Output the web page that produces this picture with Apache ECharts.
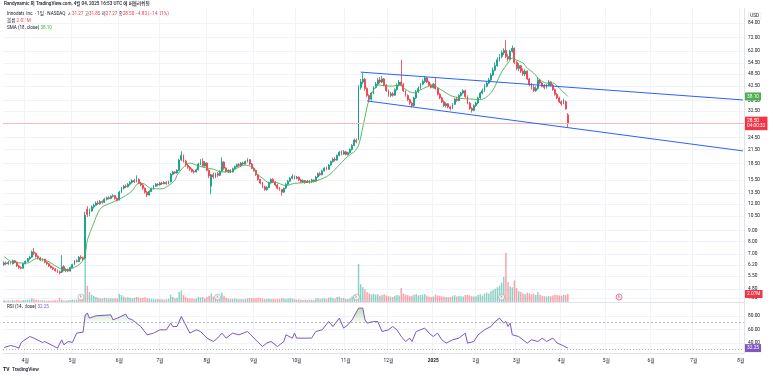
<!DOCTYPE html>
<html>
<head>
<meta charset="utf-8">
<title>INOD 1D</title>
<script src="https://cdn.jsdelivr.net/npm/echarts@6/dist/echarts.min.js"></script>
<style>
  html, body { margin: 0; padding: 0; background: #fff; }
  #chart { width: 773px; height: 377px; }
</style>
</head>
<body>
<div id="chart"></div>
<script>
// 거래일 달력 (주말, 휴장일 제외)
var firstDay = '2024-03-15';
var lastDay = '2025-08-04';
var holidays = ['2024-03-29', '2024-05-27', '2024-06-19', '2024-07-04', '2024-09-02', '2024-11-28',
  '2024-12-25', '2025-01-01', '2025-01-09', '2025-01-20', '2025-02-17', '2025-04-18', '2025-05-26',
  '2025-06-19', '2025-07-04'];

// [시가, 종가, 저가, 고가] - 2024-03-15 부터
var ohlc = [
  [6.25, 6.35, 6.15, 6.45], [6.35, 6.30, 6.20, 6.45], [6.30, 6.38, 6.22, 6.48], [6.38, 6.32, 6.25, 6.45], [6.30, 6.50, 6.25, 6.58],
  [6.50, 6.40, 6.32, 6.55], [6.40, 6.15, 6.08, 6.45], [6.15, 6.05, 5.95, 6.22], [6.05, 6.00, 5.92, 6.12], [6.00, 6.30, 5.98, 6.35],
  [6.30, 6.45, 6.25, 6.52], [6.45, 6.65, 6.40, 6.70], [6.65, 6.75, 6.55, 6.85], [6.75, 7.15, 6.70, 7.25], [7.15, 7.05, 6.90, 7.45],
  [7.05, 6.80, 6.72, 7.10], [6.80, 6.70, 6.60, 6.90], [6.70, 6.55, 6.48, 6.78], [6.55, 6.60, 6.45, 6.68], [6.60, 6.40, 6.32, 6.65],
  [6.40, 6.30, 6.22, 6.45], [6.30, 6.15, 6.08, 6.35], [6.15, 6.05, 5.98, 6.20], [6.05, 5.95, 5.88, 6.10], [5.95, 5.85, 5.78, 6.00],
  [5.85, 5.78, 5.70, 5.92], [5.78, 5.70, 5.62, 5.85], [5.75, 6.10, 5.70, 6.90], [6.10, 5.85, 5.80, 6.20], [5.85, 5.90, 5.75, 6.00],
  [5.90, 5.82, 5.75, 5.98], [5.82, 6.05, 5.78, 6.10], [6.05, 6.25, 6.00, 6.30], [6.25, 6.50, 6.20, 6.55], [6.50, 6.45, 6.38, 6.60],
  [6.45, 6.75, 6.42, 6.85], [6.75, 6.70, 6.60, 6.90], [6.70, 6.60, 6.52, 6.80], [6.70, 10.60, 6.60, 11.00], [11.30, 10.70, 10.40, 11.70],
  [10.70, 11.10, 10.50, 11.40], [11.10, 11.60, 11.00, 11.80], [11.60, 11.80, 11.40, 12.00], [11.80, 12.10, 11.70, 12.30], [12.10, 12.00, 11.85, 12.40],
  [12.00, 12.30, 11.90, 12.50], [12.30, 12.20, 12.00, 12.45], [12.20, 12.60, 12.10, 12.80], [12.60, 12.80, 12.45, 12.95], [12.80, 12.70, 12.55, 13.00],
  [12.70, 13.00, 12.60, 13.15], [13.00, 13.10, 12.85, 13.30], [13.10, 12.70, 12.55, 13.20], [12.70, 12.40, 12.30, 12.85], [12.50, 13.60, 12.45, 13.80],
  [13.60, 14.20, 13.50, 14.40], [14.20, 14.50, 14.00, 14.70], [14.50, 14.40, 14.20, 14.80], [14.40, 14.80, 14.30, 15.00], [14.80, 15.10, 14.60, 15.30],
  [15.10, 15.40, 14.90, 15.60], [15.40, 15.20, 15.00, 15.70], [15.20, 15.60, 15.10, 16.30], [15.60, 15.00, 14.80, 15.80], [15.00, 14.70, 14.50, 15.20],
  [14.70, 14.20, 13.90, 14.90], [14.20, 13.60, 13.40, 14.30], [13.60, 13.20, 12.90, 13.80], [13.20, 13.70, 13.10, 13.90], [13.70, 14.10, 13.60, 14.30],
  [14.10, 14.50, 14.00, 14.70], [14.50, 14.80, 14.40, 15.00], [14.80, 14.70, 14.50, 15.00], [14.70, 15.00, 14.60, 15.20], [15.00, 14.90, 14.70, 15.20],
  [14.90, 15.10, 14.80, 15.30], [15.10, 14.90, 14.70, 15.30], [14.90, 15.20, 14.80, 15.40], [15.20, 16.50, 15.10, 16.70], [16.50, 16.90, 16.30, 17.10],
  [16.90, 16.70, 16.50, 17.10], [16.70, 17.20, 16.60, 17.40], [17.20, 19.20, 17.10, 19.50], [19.20, 20.20, 19.00, 21.10], [20.20, 19.00, 18.70, 20.40],
  [19.00, 18.20, 17.90, 19.30], [18.20, 17.80, 17.50, 18.50], [17.80, 17.40, 17.10, 18.00], [17.40, 17.00, 16.80, 17.60], [17.00, 16.90, 16.60, 17.30],
  [16.90, 17.30, 16.80, 17.50], [17.30, 18.40, 17.20, 18.70], [18.40, 18.90, 18.20, 19.40], [18.90, 18.00, 17.80, 19.60], [18.00, 18.60, 17.90, 19.00],
  [18.60, 17.20, 17.00, 18.80], [17.20, 16.20, 15.80, 17.40], [14.50, 16.40, 13.30, 16.60], [16.40, 16.00, 15.70, 16.80], [16.00, 16.60, 15.80, 16.80],
  [16.60, 16.30, 16.00, 16.90], [16.30, 17.00, 16.20, 17.20], [17.00, 18.80, 16.90, 19.80], [18.80, 17.60, 17.30, 19.00], [17.60, 17.00, 16.80, 17.80],
  [17.00, 17.20, 16.70, 17.40], [17.20, 16.90, 16.70, 17.40], [16.90, 17.50, 16.80, 17.70], [17.50, 17.90, 17.40, 18.10], [17.90, 18.30, 17.70, 18.50],
  [18.30, 18.10, 17.90, 18.60], [18.10, 18.60, 18.00, 18.80], [18.60, 18.40, 18.20, 18.90], [18.40, 18.90, 18.30, 19.10], [18.90, 19.30, 18.70, 19.60],
  [19.30, 18.40, 18.20, 19.40], [18.40, 17.60, 17.40, 18.60], [17.60, 17.20, 17.00, 17.80], [17.20, 16.40, 16.20, 17.30], [16.40, 15.60, 15.40, 16.50],
  [15.60, 15.00, 14.80, 15.70], [15.00, 14.40, 14.20, 15.20], [14.40, 14.00, 13.80, 14.60], [14.00, 14.30, 13.80, 14.50], [14.30, 15.00, 14.20, 15.20],
  [15.00, 15.60, 14.90, 15.80], [15.60, 15.20, 15.00, 15.80], [15.20, 14.70, 14.50, 15.30], [14.70, 14.20, 14.00, 14.90], [14.20, 14.00, 13.80, 14.40],
  [14.00, 13.60, 13.10, 14.10], [13.60, 14.20, 13.50, 14.30], [14.20, 14.80, 14.10, 15.00], [14.80, 15.30, 14.70, 15.50], [15.30, 15.80, 15.20, 16.00],
  [15.80, 16.10, 15.60, 16.50], [16.10, 15.80, 15.60, 16.30], [15.80, 16.00, 15.60, 16.20], [16.00, 15.50, 15.30, 16.10], [15.50, 15.20, 15.00, 15.70],
  [15.20, 15.40, 15.00, 15.60], [15.40, 15.10, 14.90, 15.50], [15.10, 15.30, 15.00, 15.50], [15.30, 15.20, 14.90, 15.50], [15.20, 15.50, 15.00, 15.70],
  [15.50, 15.30, 15.10, 15.60], [15.30, 16.00, 15.20, 16.20], [16.00, 16.60, 15.90, 16.80], [16.60, 16.40, 16.20, 16.90], [16.40, 17.10, 16.30, 17.30],
  [17.10, 17.60, 17.00, 17.80], [17.60, 17.40, 17.20, 17.90], [17.40, 18.20, 17.30, 18.40], [18.20, 18.90, 18.10, 19.10], [18.90, 19.40, 18.70, 19.70],
  [19.40, 19.20, 18.90, 19.80], [19.20, 20.20, 19.10, 20.40], [20.20, 20.90, 20.00, 21.20], [20.90, 20.50, 20.20, 21.30], [20.50, 21.00, 20.30, 21.40],
  [21.00, 20.40, 20.20, 21.20], [20.40, 20.80, 20.20, 21.00], [20.80, 21.50, 20.60, 21.80], [21.50, 22.50, 21.30, 22.80], [22.50, 23.80, 22.30, 24.20],
  [23.80, 23.40, 23.00, 24.20], [24.00, 42.00, 23.80, 43.00], [42.00, 44.50, 41.00, 46.00], [44.50, 45.80, 43.50, 49.00], [45.80, 41.50, 40.50, 46.50],
  [41.50, 38.50, 37.80, 42.00], [38.50, 37.00, 36.20, 39.00], [37.00, 39.50, 36.50, 40.00], [39.50, 42.00, 39.00, 42.50], [42.00, 43.50, 41.50, 44.50],
  [43.50, 45.50, 43.00, 46.50], [45.50, 44.50, 43.80, 47.00], [44.50, 46.00, 44.00, 47.50], [46.00, 43.00, 42.50, 46.50], [43.00, 40.50, 40.00, 43.50],
  [40.50, 38.50, 38.00, 41.00], [38.50, 39.20, 37.80, 40.00], [39.20, 38.60, 38.00, 40.00], [38.60, 41.00, 38.40, 41.50], [41.00, 43.00, 40.50, 43.80],
  [43.00, 44.50, 42.50, 45.50], [44.50, 43.20, 42.50, 56.50], [43.20, 40.50, 40.00, 44.00], [40.50, 38.50, 38.00, 41.00], [38.50, 36.80, 36.20, 39.00],
  [36.80, 35.50, 34.80, 37.20], [35.50, 34.50, 33.80, 36.00], [34.50, 37.50, 34.20, 38.00], [37.50, 40.00, 37.00, 40.80], [40.00, 41.50, 39.50, 42.50],
  [41.50, 43.50, 41.00, 44.00], [43.50, 44.80, 43.00, 45.80], [44.80, 46.50, 44.00, 47.50], [46.50, 44.50, 44.00, 47.00], [44.50, 43.00, 42.50, 45.00],
  [43.00, 42.00, 41.50, 43.80], [42.00, 43.50, 41.50, 44.00], [43.50, 41.50, 41.00, 46.50], [41.50, 39.00, 38.50, 42.00], [39.00, 37.50, 37.00, 39.50],
  [37.50, 36.00, 35.50, 38.00], [36.00, 34.50, 34.00, 36.50], [34.50, 35.20, 33.80, 35.80], [35.20, 34.00, 33.50, 35.50], [34.00, 33.50, 32.80, 34.50],
  [33.50, 35.00, 33.20, 35.50], [35.00, 37.00, 34.80, 37.50], [37.00, 36.50, 36.00, 38.00], [36.50, 38.50, 36.20, 39.00], [38.50, 39.50, 38.00, 40.00],
  [39.50, 40.50, 39.00, 41.20], [40.50, 38.00, 37.50, 41.00], [38.00, 35.50, 35.00, 38.50], [35.50, 33.50, 33.00, 36.00], [33.50, 32.80, 32.00, 34.00],
  [32.80, 34.50, 32.50, 35.00], [34.50, 35.50, 34.00, 36.00], [35.50, 37.50, 35.00, 38.00], [37.50, 39.50, 37.00, 40.00], [39.50, 40.50, 39.00, 41.50],
  [40.50, 42.50, 40.00, 43.50], [42.50, 44.00, 42.00, 45.00], [44.00, 45.50, 43.50, 46.50], [45.50, 48.00, 45.00, 49.00], [48.00, 50.50, 47.50, 52.00],
  [50.50, 53.00, 50.00, 55.00], [53.00, 56.50, 52.50, 58.00], [56.50, 58.50, 55.50, 60.00], [58.50, 61.00, 57.50, 62.50], [61.00, 62.50, 59.50, 64.00],
  [62.50, 58.50, 57.50, 70.00], [58.50, 57.00, 55.50, 60.00], [57.00, 62.00, 56.50, 63.00], [62.00, 64.00, 61.00, 66.00], [64.00, 55.00, 54.00, 64.50],
  [55.00, 51.50, 50.50, 56.00], [51.50, 53.00, 50.00, 54.50], [53.00, 50.00, 49.00, 53.50], [50.00, 48.50, 47.50, 51.50], [48.50, 50.00, 47.50, 51.00],
  [50.00, 46.00, 45.50, 50.50], [46.00, 43.50, 42.50, 46.50], [43.50, 42.00, 41.00, 44.00], [42.00, 40.50, 40.00, 43.00], [40.50, 41.50, 40.00, 42.50],
  [41.50, 45.50, 41.00, 47.00], [45.50, 44.00, 43.50, 46.00], [44.00, 42.50, 42.00, 44.50], [42.50, 42.00, 41.20, 43.50], [42.00, 43.00, 41.50, 43.50],
  [43.00, 44.50, 42.50, 45.50], [44.50, 43.00, 42.50, 45.00], [43.00, 41.00, 40.50, 43.50], [41.00, 39.00, 38.50, 41.50], [39.00, 37.50, 37.00, 39.50],
  [37.50, 36.00, 35.50, 38.00], [36.00, 35.20, 34.50, 36.50], [35.20, 36.80, 35.00, 37.20], [36.00, 33.33, 33.00, 36.50], [31.27, 28.50, 27.27, 31.85]
];

// 거래량 (백만 주)
var volumes = [
  0.45, 0.35, 0.40, 0.30, 0.55, 0.40, 0.50, 0.45, 0.35, 0.50,
  0.45, 0.55, 0.60, 0.90, 0.70, 0.55, 0.45, 0.40, 0.45, 0.40,
  0.35, 0.40, 0.35, 0.40, 0.45, 0.40, 1.10, 0.60, 0.40, 0.35,
  0.45, 0.50, 0.60, 0.50, 0.65, 0.55, 0.60, 0.70, 11.8, 4.2,
  2.6, 1.9, 1.6, 1.3, 1.1, 1.0, 0.9, 1.1, 1.0, 0.9,
  1.0, 0.9, 1.0, 0.9, 2.1, 1.8, 1.4, 1.1, 1.2, 1.1,
  1.0, 1.1, 1.3, 1.2, 1.0, 1.1, 1.2, 1.0, 0.9, 0.8,
  0.8, 0.7, 0.8, 0.7, 0.7, 0.6, 0.7, 0.8, 1.9, 1.3,
  1.0, 1.1, 2.6, 3.0, 1.8, 1.3, 1.0, 0.9, 0.9, 0.8,
  0.9, 1.3, 1.2, 1.3, 1.0, 1.2, 1.6, 2.2, 1.4, 1.1,
  1.3, 1.2, 2.4, 1.6, 1.1, 0.9, 0.8, 0.8, 0.9, 0.8,
  0.7, 0.8, 0.7, 0.8, 0.9, 1.0, 1.0, 0.9, 1.0, 1.1,
  1.0, 0.9, 0.8, 0.8, 0.9, 0.8, 0.8, 0.7, 0.8, 0.8,
  1.0, 0.9, 0.8, 0.9, 1.0, 0.9, 0.7, 0.6, 0.7, 0.6,
  0.5, 0.6, 0.5, 0.6, 0.6, 0.5, 0.9, 1.0, 0.8, 0.9,
  1.0, 0.8, 1.1, 1.2, 1.0, 0.9, 1.3, 1.4, 1.0, 1.0,
  0.8, 0.8, 1.0, 1.4, 1.8, 1.3, 9.8, 4.6, 3.8, 3.2,
  2.6, 2.2, 2.0, 2.1, 1.9, 2.0, 1.6, 1.8, 2.0, 1.7,
  1.5, 1.4, 1.3, 1.6, 1.8, 1.7, 3.6, 2.2, 1.9, 1.8,
  1.5, 1.6, 1.9, 2.0, 1.7, 1.8, 1.9, 2.1, 1.7, 1.4,
  1.3, 1.4, 1.9, 1.7, 1.6, 1.5, 1.4, 1.3, 1.2, 1.3,
  1.5, 1.8, 1.4, 1.6, 1.5, 1.4, 1.8, 1.9, 1.7, 1.5,
  1.4, 1.5, 1.8, 2.0, 1.7, 2.2, 2.4, 2.2, 2.8, 3.1,
  3.4, 3.8, 4.2, 5.0, 6.5, 12.7, 5.2, 4.0, 3.8, 5.6,
  3.6, 2.8, 2.6, 2.2, 2.0, 2.4, 2.3, 2.0, 2.1, 1.8,
  2.6, 1.9, 1.6, 1.5, 1.4, 1.6, 1.5, 1.7, 1.9, 1.8,
  1.7, 1.6, 1.9, 1.8, 2.07
];

// SMA 선 [봉 번호, 값]
var smaPoints = [
  [0, 6.8], [4, 6.4], [11, 6.34], [15, 6.65], [20, 6.5], [25, 6.07], [28, 5.9], [32, 6.0], [36, 6.34], [38, 7.0],
  [39, 8.1], [42, 9.75], [44, 10.9], [46, 11.6], [50, 12.1], [53, 12.5], [57, 13.1], [60, 13.8], [63, 14.95], [65, 14.95],
  [69, 14.1], [74, 14.1], [77, 14.6], [80, 15.45], [81, 16.3], [84, 17.8], [87, 18.6], [90, 18.2], [93, 17.8], [98, 17.4],
  [102, 16.9], [106, 16.9], [109, 17.6], [113, 18.2], [116, 17.8], [118, 16.7], [121, 15.8], [124, 15.1], [127, 15.1], [132, 14.6],
  [136, 14.95], [142, 15.1], [147, 15.45], [152, 16.3], [156, 17.8], [160, 19.6], [163, 20.7], [164, 21.0], [166, 22.5], [168, 27.4],
  [169, 30.5], [171, 37.0], [174, 42.2], [176, 43.1], [179, 42.6], [182, 42.6], [185, 43.1], [189, 40.5], [192, 39.6], [195, 40.9],
  [198, 42.2], [201, 43.1], [203, 41.9], [206, 40.2], [209, 38.5], [214, 37.3], [218, 37.1], [223, 36.8], [226, 37.9], [229, 40.9],
  [231, 45.0], [233, 49.6], [236, 54.6], [238, 57.6], [240, 56.4], [243, 54.6], [245, 51.7], [248, 49.0], [251, 45.5], [254, 44.0],
  [257, 44.0], [260, 41.7], [264, 38.1]
];

// RSI(14) [봉 번호, 값]
var rsiPoints = [
  [0, 33.1], [3, 36.1], [5, 34.6], [7, 32.2], [8, 40.5], [12, 49.4], [14, 47.0], [18, 40.5], [19, 42.0], [22, 37.1],
  [25, 32.2], [27, 44.5], [28, 37.1], [30, 42.0], [32, 40.5], [34, 54.4], [37, 55.9], [38, 81.5], [39, 84.0], [40, 76.6],
  [43, 80.0], [50, 81.5], [51, 74.1], [53, 76.6], [57, 82.5], [58, 76.6], [60, 74.1], [64, 64.2], [67, 51.9], [70, 54.4],
  [73, 59.3], [76, 59.3], [78, 69.2], [79, 64.2], [81, 64.2], [83, 79.0], [85, 66.7], [87, 54.4], [90, 59.3], [92, 56.8],
  [95, 47.0], [98, 42.0], [100, 47.0], [102, 54.4], [104, 47.0], [107, 54.4], [110, 51.9], [114, 56.8], [117, 47.0], [121, 34.6],
  [123, 39.6], [125, 42.0], [128, 34.6], [131, 42.0], [132, 51.9], [135, 47.0], [136, 54.4], [137, 47.0], [144, 47.0], [146, 56.8],
  [149, 59.3], [152, 71.6], [154, 64.2], [157, 76.6], [159, 61.8], [161, 66.7], [163, 74.1], [166, 91.4], [168, 91.4], [169, 74.1],
  [170, 69.2], [173, 71.6], [175, 71.6], [177, 56.8], [180, 59.3], [182, 64.2], [184, 59.3], [186, 49.4], [188, 42.0], [190, 47.0],
  [191, 42.0], [193, 56.8], [197, 61.8], [199, 54.4], [201, 49.4], [203, 54.4], [205, 44.5], [207, 39.6], [210, 44.5], [213, 47.0],
  [216, 54.4], [217, 39.6], [220, 42.0], [222, 51.9], [225, 59.3], [228, 64.2], [230, 71.6], [232, 76.6], [234, 69.2], [235, 71.6],
  [236, 64.2], [237, 69.2], [238, 51.9], [241, 49.4], [243, 44.5], [245, 39.6], [247, 44.5], [250, 42.0], [252, 47.0], [254, 42.0],
  [257, 47.0], [259, 39.6], [261, 37.1], [264, 32.25]
];

// 평행 채널 (추세선)
var channelUpper = [[167, 49.5], [346, 36.7]];
var channelLower = [[170, 36.3], [346, 21.2]];

// 실적 발표 (E)
var earningsIdx = [36, 100, 165, 233, 288];

// 축 눈금
var priceTicks = [84, 72, 62, 54.5, 48.5, 42.5, 36.5, 32.5, 24.5, 21.5, 18.5, 15.5, 13.5, 12, 10.5, 9, 8, 7, 6.2, 5.5, 4.8, 4.35];
var rsiTicks = [40, 60, 80];

var lastClose = 28.50, lastSma = 38.10, lastVol = 2.07, lastRsi = 32.25;

// ---------------------------------------------------------------
var dates = [];
(function () {
  var d = new Date(firstDay + 'T00:00:00Z');
  var end = new Date(lastDay + 'T00:00:00Z');
  while (d <= end) {
    var s = d.toISOString().slice(0, 10);
    var w = d.getUTCDay();
    if (w !== 0 && w !== 6 && holidays.indexOf(s) < 0) dates.push(s);
    d.setUTCDate(d.getUTCDate() + 1);
  }
})();

function isMonthStart(i) {
  return i > 0 && dates[i].slice(5, 7) !== dates[i - 1].slice(5, 7);
}

var FONT = 'Roboto, "Noto Sans CJK KR", sans-serif';
var UP = '#089981', DOWN = '#f23645';
var GRIDC = '#f0f3fa', LINEC = '#e0e3eb', TEXTC = '#131722';
var NOLINE = { color: 'rgba(0,0,0,0)', width: 1 };

var volData = volumes.map(function (v, i) {
  var up = ohlc[i][1] >= ohlc[i][0];
  return { value: v, itemStyle: { color: up ? 'rgba(8,153,129,0.45)' : 'rgba(242,54,69,0.45)' } };
});

var rsiOver = rsiPoints.map(function (p) { return [p[0], Math.max(p[1], 70)]; });

var earnData = earningsIdx.map(function (i) {
  var future = i >= ohlc.length;
  return {
    value: [i, 4.4],
    itemStyle: { color: future ? '#fce4ec' : '#fff', borderColor: future ? '#e91e63' : '#9598a1', borderWidth: 0.7 }
  };
});

function tagLabel(text, bg) {
  return {
    show: true, position: 'end', distance: 1, formatter: text,
    backgroundColor: bg, color: '#fff', fontFamily: FONT, fontSize: 4.8,
    padding: [1.5, 2, 1, 2], lineHeight: 5.5
  };
}

var chart = echarts.init(document.getElementById('chart'), null, { renderer: 'canvas' });

var xCommon = {
  type: 'category',
  data: dates,
  boundaryGap: true,
  axisTick: { show: false },
  axisLine: { show: true, lineStyle: { color: LINEC, width: 1 } },
  splitLine: { show: true, interval: function (i) { return isMonthStart(i); }, lineStyle: { color: GRIDC, width: 1 } }
};

var option = {
  animation: false,
  backgroundColor: '#ffffff',
  textStyle: { fontFamily: FONT },
  grid: [
    { left: 3, right: 29, top: 8, height: 294 },
    { left: 3, right: 29, top: 303, height: 50 }
  ],
  xAxis: [
    Object.assign({}, xCommon, { gridIndex: 0, axisLabel: { show: false } }),
    Object.assign({}, xCommon, {
      gridIndex: 1,
      axisLabel: {
        show: true, interval: function (i) { return isMonthStart(i); },
        color: TEXTC, fontSize: 4.8, fontFamily: FONT, margin: 5,
        formatter: function (v) {
          var m = +v.slice(5, 7);
          return m === 1 ? '{y|' + v.slice(0, 4) + '}' : m + '월';
        },
        rich: { y: { fontWeight: 'bold', fontSize: 4.8, color: TEXTC, fontFamily: FONT } }
      }
    })
  ],
  yAxis: [
    {
      type: 'log', gridIndex: 0, position: 'right', min: 4.17, max: 98.7, logBase: 10,
      axisLine: { show: true, lineStyle: { color: LINEC } },
      axisTick: { show: false, customValues: priceTicks },
      axisLabel: {
        customValues: priceTicks, color: TEXTC, fontSize: 4.8, fontFamily: FONT, margin: 4,
        formatter: function (v) { return Number(v).toFixed(2); }
      },
      splitLine: { show: true, lineStyle: { color: GRIDC, width: 1 } }
    },
    { type: 'value', gridIndex: 0, min: 0, max: 76, show: false, splitLine: { show: false } },
    {
      type: 'value', gridIndex: 1, position: 'right', min: 25, max: 99,
      axisLine: { show: true, lineStyle: { color: LINEC } },
      axisTick: { show: false, customValues: rsiTicks },
      axisLabel: {
        customValues: rsiTicks, color: TEXTC, fontSize: 4.8, fontFamily: FONT, margin: 4,
        formatter: function (v) { return Number(v).toFixed(2); }
      },
      splitLine: { show: true, lineStyle: { color: GRIDC, width: 1 } }
    }
  ],
  series: [
    {
      name: '볼륨', type: 'bar', xAxisIndex: 0, yAxisIndex: 1, data: volData,
      barWidth: '70%', z: 1, silent: true,
      markLine: {
        symbol: 'none', silent: true,
        lineStyle: NOLINE,
        data: [{ yAxis: lastVol, lineStyle: NOLINE, label: tagLabel(lastVol.toFixed(2) + 'M', DOWN) }]
      }
    },
    {
      name: 'Innodata', type: 'candlestick', xAxisIndex: 0, yAxisIndex: 0, data: ohlc,
      barWidth: '65%', z: 3,
      itemStyle: { color: UP, color0: DOWN, borderColor: UP, borderColor0: DOWN, borderWidth: 0.8 },
      markLine: {
        symbol: 'none', silent: true,
        data: [{
          yAxis: lastClose,
          lineStyle: { color: '#f9b7bd', type: 'solid', width: 1 },
          label: tagLabel(lastClose.toFixed(2) + '\n04:00:32', DOWN)
        }]
      }
    },
    {
      name: 'SMA', type: 'line', xAxisIndex: 0, yAxisIndex: 0, data: smaPoints,
      showSymbol: false, smooth: 0.3, z: 4,
      lineStyle: { color: '#4caf50', width: 0.9 },
      markLine: {
        symbol: 'none', silent: true, lineStyle: NOLINE,
        data: [{ yAxis: lastSma, lineStyle: NOLINE, label: tagLabel(lastSma.toFixed(2), '#4caf50') }]
      }
    },
    {
      name: 'channelUpper', type: 'line', xAxisIndex: 0, yAxisIndex: 0, data: channelUpper,
      showSymbol: false, z: 5, lineStyle: { color: '#2962ff', width: 1 }
    },
    {
      name: 'channelLower', type: 'line', xAxisIndex: 0, yAxisIndex: 0, data: channelLower,
      showSymbol: false, z: 5, lineStyle: { color: '#2962ff', width: 1 }
    },
    {
      name: 'E', type: 'scatter', xAxisIndex: 0, yAxisIndex: 0, data: earnData,
      symbol: 'circle', symbolSize: 6, z: 6,
      label: { show: true, position: 'inside', formatter: 'E', fontSize: 3.8, color: '#787b86', fontFamily: FONT }
    },
    {
      name: 'rsiFill', type: 'line', xAxisIndex: 1, yAxisIndex: 2, data: rsiOver,
      showSymbol: false, silent: true, z: 2,
      lineStyle: { width: 0 },
      areaStyle: {
        origin: 70,
        color: new echarts.graphic.LinearGradient(0, 0, 0, 1, [
          { offset: 0, color: 'rgba(76,175,80,0.55)' },
          { offset: 1, color: 'rgba(76,175,80,0.05)' }
        ])
      }
    },
    {
      name: 'RSI', type: 'line', xAxisIndex: 1, yAxisIndex: 2, data: rsiPoints,
      showSymbol: false, z: 3,
      lineStyle: { color: '#7e57c2', width: 1 },
      markLine: {
        symbol: 'none', silent: true,
        data: [
          { yAxis: 70, lineStyle: { color: '#9598a1', type: [2, 2], width: 0.7 }, label: { show: false } },
          { yAxis: 30, lineStyle: { color: '#9598a1', type: [1, 2], width: 0.7 }, label: { show: false } },
          { yAxis: lastRsi, lineStyle: NOLINE, label: tagLabel(lastRsi.toFixed(2), '#7e57c2') }
        ]
      }
    }
  ],
  graphic: [
    {
      type: 'text', left: 4, top: 2,
      style: {
        text: 'Randynamic 의 TradingView.com, 4월 04, 2025 16:53 UTC 에 퍼블리쉬됨',
        fill: TEXTC, font: '500 4.6px ' + FONT
      }
    },
    {
      type: 'text', left: 7, top: 12,
      style: {
        text: '{t|Innodata Inc. · 1일 · NASDAQ}  {t|시}{r|31.27} {t|고}{r|31.85} {t|저}{r|27.27} {t|종}{r|28.50} {r|−4.83 (−14.51%)}',
        font: '4.6px ' + FONT,
        rich: {
          t: { fill: TEXTC, fontSize: 4.6, fontFamily: FONT },
          r: { fill: DOWN, fontSize: 4.6, fontFamily: FONT }
        }
      }
    },
    {
      type: 'text', left: 7, top: 19,
      style: {
        text: '{t|볼륨} {r|2.07 M}', font: '4.6px ' + FONT,
        rich: {
          t: { fill: TEXTC, fontSize: 4.6, fontFamily: FONT },
          r: { fill: DOWN, fontSize: 4.6, fontFamily: FONT }
        }
      }
    },
    {
      type: 'text', left: 7, top: 26,
      style: {
        text: '{t|SMA (18, close)} {g|38.10}', font: '4.6px ' + FONT,
        rich: {
          t: { fill: TEXTC, fontSize: 4.6, fontFamily: FONT },
          g: { fill: '#4caf50', fontSize: 4.6, fontFamily: FONT }
        }
      }
    },
    {
      type: 'text', left: 7, top: 305,
      style: {
        text: '{t|RSI (14, close)} {p|32.25}', font: '4.6px ' + FONT,
        rich: {
          t: { fill: TEXTC, fontSize: 4.6, fontFamily: FONT },
          p: { fill: '#7e57c2', fontSize: 4.6, fontFamily: FONT }
        }
      }
    },
    {
      type: 'text', left: 748, top: 12,
      style: {
        text: 'USD', fill: TEXTC, font: '4.6px ' + FONT,
        borderColor: LINEC, borderWidth: 0.6, padding: [1, 2]
      }
    },
    {
      type: 'text', left: 3, top: 367,
      style: { text: 'TV', fill: TEXTC, font: 'bold 5px ' + FONT }
    },
    {
      type: 'text', left: 12, top: 367,
      style: { text: 'TradingView', fill: TEXTC, font: '500 4.8px ' + FONT }
    }
  ]
};

chart.setOption(option);
</script>
</body>
</html>
